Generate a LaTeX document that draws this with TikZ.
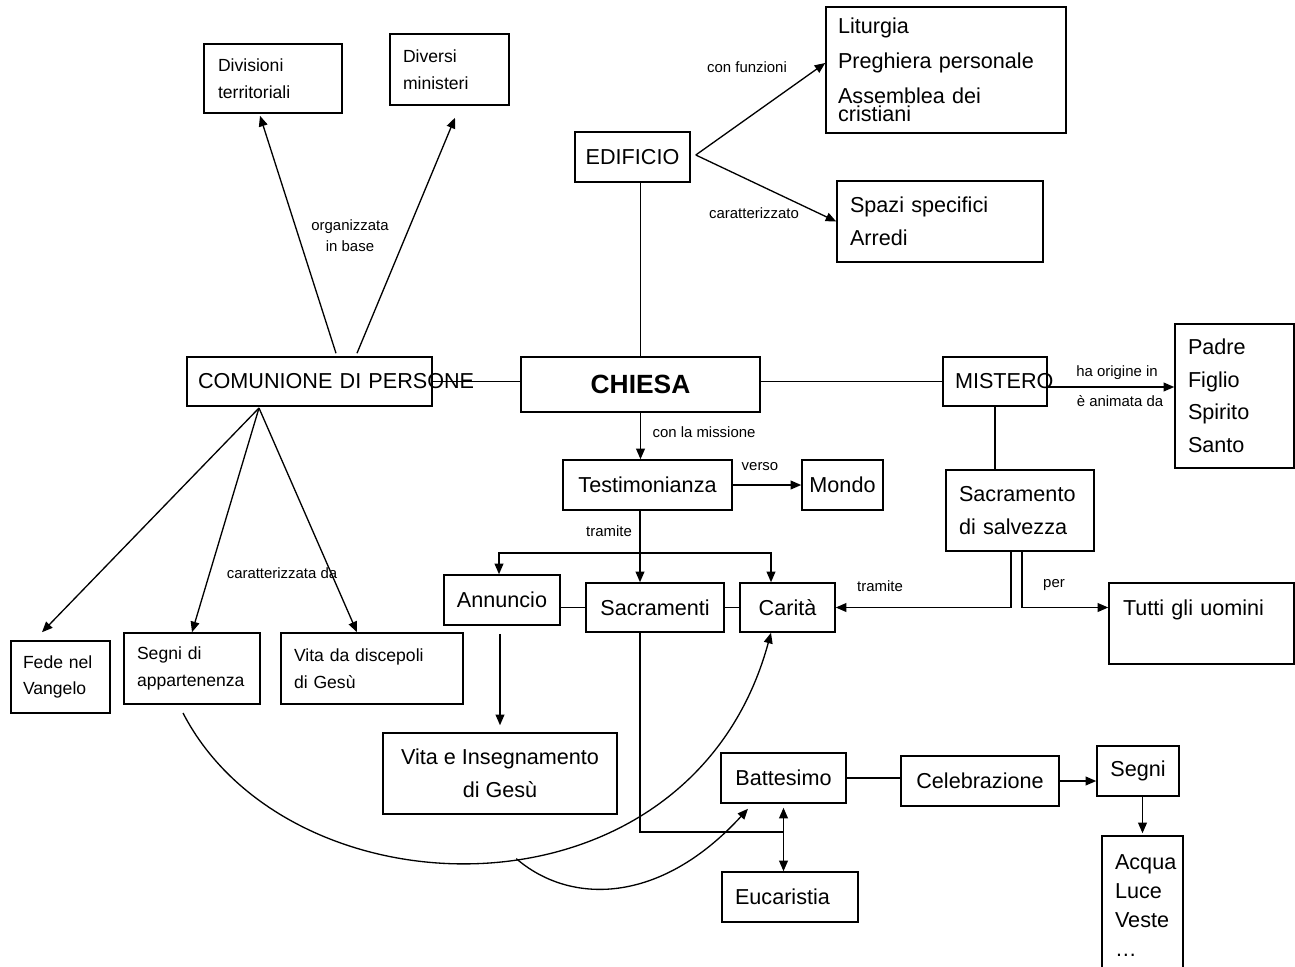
\documentclass[tikz,border=0pt]{standalone}
\usepackage{fontspec}
\setmainfont{Liberation Sans}
\usetikzlibrary{arrows.meta}
\newcommand{\txtbig}{\fontsize{12.3}{18.5}\selectfont}
\newcommand{\txtsmall}{\fontsize{10}{15.3}\selectfont}
\newcommand{\txtlink}{\fontsize{8.5}{12}\selectfont}
\tikzset{
  box/.style={draw,line width=0.9pt,inner sep=0pt,font=\txtbig},
  lbox/.style={box,align=left},
  link/.style={line width=0.75pt},
  arr/.style={link,-{Triangle[length=6pt,width=5pt]}},
  lab/.style={inner sep=0pt,font=\txtlink,align=center}
}
\begin{document}
\begin{tikzpicture}[x=0.02cm,y=-0.02cm]
\useasboundingbox (0,0) rectangle (1295,967);

\node[lbox,font=\txtsmall,minimum width=2.76cm,minimum height=1.38cm,text width=2.2cm] (divis) at (273,78.5) {Divisioni\\territoriali};
\node[lbox,font=\txtsmall,minimum width=2.38cm,minimum height=1.42cm,text width=1.86cm] (divers) at (449.5,69.5) {Diversi\\ministeri};
\node[box,minimum width=2.3cm,minimum height=1cm] (edif) at (632.5,157) {EDIFICIO};
\node[lbox,minimum width=4.8cm,minimum height=2.52cm,text width=4.32cm] (litur) at (946,70)
  {Liturgia\\[1.3pt]Preghiera personale\\[1.3pt]Assemblea dei\\[-8.3pt]cristiani};
\node[lbox,minimum width=4.12cm,minimum height=1.62cm,text width=3.6cm] (spazi) at (940,221.5) {Spazi specifici\\Arredi};
\node[lbox,minimum width=4.9cm,minimum height=0.98cm,text width=4.46cm] (comun) at (309.5,381.5) {\mbox{COMUNIONE DI PERSONE}};
\node[box,font=\fontsize{15}{18}\selectfont\bfseries,minimum width=4.78cm,minimum height=1.1cm] (chiesa) at (640.5,384.5) {CHIESA};
\node[lbox,minimum width=2.08cm,minimum height=0.98cm,text width=1.6cm] (mist) at (995,381.5) {\mbox{MISTERO}};
\node[lbox,minimum width=2.38cm,minimum height=2.88cm,text width=1.86cm] (padre) at (1234.5,396) {Padre\\Figlio\\Spirito\\Santo};
\node[box,minimum width=3.38cm,minimum height=1cm] (testim) at (647.5,485) {Testimonianza};
\node[box,minimum width=1.62cm,minimum height=1cm] (mondo) at (842.5,485) {Mondo};
\node[lbox,minimum width=2.96cm,minimum height=1.62cm,text width=2.44cm] (salv) at (1020,510.5) {Sacramento\\di salvezza};
\node[box,minimum width=2.32cm,minimum height=1cm] (annun) at (502,600) {Annuncio};
\node[box,minimum width=2.76cm,minimum height=0.98cm] (sacr) at (655,607.5) {Sacramenti};
\node[box,minimum width=1.9cm,minimum height=0.98cm] (carita) at (787.5,607.5) {Carità};
\node[lbox,minimum width=3.7cm,minimum height=1.62cm,text width=3.14cm] (tutti) at (1201.5,623.5) {Tutti gli uomini\\\mbox{}};
\node[lbox,font=\txtsmall,minimum width=1.98cm,minimum height=1.44cm,text width=1.5cm] (fede) at (60.5,677) {Fede nel\\Vangelo};
\node[lbox,font=\txtsmall,minimum width=2.72cm,minimum height=1.42cm,text width=2.2cm] (segniapp) at (192,668.5) {Segni di\\appartenenza};
\node[lbox,font=\txtsmall,minimum width=3.64cm,minimum height=1.42cm,text width=3.12cm] (vitadisc) at (372,668.5) {Vita da discepoli\\di Gesù};
\node[box,align=center,minimum width=4.68cm,minimum height=1.62cm] (vitains) at (500,773.5) {Vita e Insegnamento\\di Gesù};
\node[box,minimum width=2.5cm,minimum height=1cm] (batt) at (783.5,778) {Battesimo};
\node[box,minimum width=3.16cm,minimum height=1cm] (celeb) at (980,781) {Celebrazione};
\node[box,minimum width=1.64cm,minimum height=1cm] (segni) at (1138,771) {Segni};
\node[lbox,minimum width=1.62cm,minimum height=2.8cm,text width=1.1cm] (acqua) at (1142.5,906) {Acqua\\[-2pt]Luce\\[-2pt]Veste\\[-2pt]\dots};
\node[lbox,minimum width=2.72cm,minimum height=1cm,text width=2.2cm] (euc) at (790,897) {Eucaristia};

\draw[arr] ([xshift=0.53cm,yshift=0.06cm]comun.north) -- ([xshift=-0.26cm,yshift=-0.04cm]divis.south);
\draw[arr] ([xshift=0.95cm,yshift=0.06cm]comun.north) -- ([xshift=0.11cm,yshift=-0.24cm]divers.south);
\node[lab] at (350,236) {organizzata\\in base};

\draw[link] (chiesa.north |- edif.south) -- (chiesa.north);
\draw[arr] ([xshift=0.1cm,yshift=0.04cm]edif.east) -- ([yshift=0.14cm]litur.west);
\draw[arr] ([xshift=0.1cm,yshift=0.04cm]edif.east) -- (spazi.west);
\node[lab] at (747,67) {con funzioni};
\node[lab] at (754,213) {caratterizzato};

\draw[link] (comun.east) -- (comun.east -| chiesa.west);
\draw[link] (mist.west -| chiesa.east) -- (mist.west);
\draw[arr] (chiesa.south) -- (chiesa.south |- testim.north);
\node[lab] at (704,432) {con la missione};

\coordinate (pin) at ([yshift=0.18cm]padre.west);
\draw[arr] (pin -| mist.east) -- (pin);
\node[lab] at (1117,373) {ha origine in};
\node[lab] at (1120,401) {è animata da};

\draw[arr] (testim.east) -- (mondo.west);
\node[lab] at (760,467) {verso};

\coordinate (tfork) at (640,553);
\draw[link] (tfork |- testim.south) -- (tfork);
\draw[arr] (tfork) -- (tfork |- sacr.north);
\draw[arr] (tfork) -| ([xshift=-0.06cm]annun.north);
\draw[arr] (tfork) -| ([xshift=-0.33cm]carita.north);
\node[lab] at (609,531) {tramite};
\draw[link] (sacr.west -| annun.east) -- (sacr.west);
\draw[link] (sacr.east) -- (carita.west);

\draw[link] (mist.south) -- (mist.south |- salv.north);
\draw[arr] ([xshift=-0.18cm]salv.south) |- (carita.east);
\draw[arr] ([xshift=0.04cm]salv.south) |- (carita.east -| tutti.west);
\node[lab] at (880,586) {tramite};
\node[lab] at (1054,585) {per};

\coordinate (cfork) at (259,408);
\draw[arr] (cfork) -- ([xshift=-0.37cm,yshift=0.16cm]fede.north);
\draw[arr] (cfork) -- (segniapp.north);
\draw[arr] (cfork) -- ([xshift=-0.3cm]vitadisc.north);
\node[lab] at (282,573) {caratterizzata da};

\draw[arr,shorten <=0.16cm,shorten >=0.14cm] (vitains.north |- annun.south) -- (vitains.north);

\coordinate (sbend) at (640,832);
\draw[link] (sbend |- sacr.south) -- (sbend) -- (sbend -| batt.south);
\draw[link,{Triangle[length=6pt,width=5pt]}-{Triangle[length=6pt,width=5pt]},shorten <=0.08cm] (batt.south) -- (batt.south |- euc.north);
\draw[link] (batt.east) -- (batt.east -| celeb.west);
\draw[arr] (celeb.east) -- (celeb.east -| segni.west);
\draw[arr,shorten >=0.04cm] (segni.south -| acqua.north) -- (acqua.north);

\coordinate (cstart) at (183,713);
\draw[arr] (cstart) .. controls (290,920) and (690,930) .. coordinate[pos=0.54] (cjoin) ([xshift=-0.33cm]carita.south);
\draw[arr] (cjoin) .. controls (570,905) and (660,905) .. ([xshift=-0.71cm,yshift=-0.1cm]batt.south);
\end{tikzpicture}
\end{document}
